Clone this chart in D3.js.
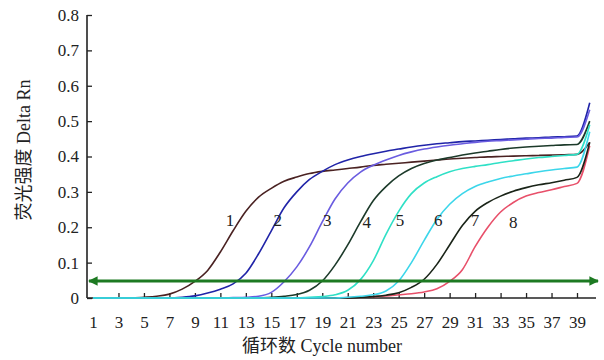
<!DOCTYPE html>
<html>
<head>
<meta charset="utf-8">
<script src="https://cdn.jsdelivr.net/npm/d3@7"></script>
<style>
  body { margin: 0; background: #fff; }
</style>
</head>
<body>
<div id="chart"></div>
<script>
// cycles 1..40
const cycles = d3.range(1, 41);

const curve1 = [0,0,0,0,0.002,0.005,0.011,0.025,0.047,0.078,0.13,0.19,0.245,0.285,0.31,0.33,0.342,0.352,0.358,0.362,
  0.366,0.37,0.375,0.378,0.381,0.384,0.387,0.39,0.393,0.395,0.397,0.399,0.4,0.401,0.402,0.403,0.404,0.405,0.406,0.44];
const curve2 = [0,0,0,0,0,0,0,0.002,0.006,0.014,0.025,0.04,0.07,0.125,0.19,0.255,0.3,0.335,0.358,0.377,
  0.39,0.4,0.408,0.415,0.421,0.427,0.432,0.436,0.439,0.442,0.444,0.446,0.448,0.45,0.452,0.453,0.455,0.456,0.458,0.552];
const curve3 = [0,0,0,0,0,0,0,0,0,0,0,0.001,0.002,0.005,0.016,0.046,0.088,0.145,0.215,0.28,
  0.325,0.356,0.375,0.39,0.403,0.413,0.421,0.427,0.432,0.436,0.44,0.443,0.445,0.447,0.449,0.451,0.452,0.454,0.455,0.532];
const curve4 = [0,0,0,0,0,0,0,0,0,0,0,0,0,0,0.002,0.005,0.01,0.022,0.048,0.093,
  0.15,0.215,0.275,0.315,0.345,0.366,0.38,0.39,0.397,0.404,0.41,0.415,0.42,0.424,0.427,0.429,0.431,0.433,0.434,0.5];
const curve5 = [0,0,0,0,0,0,0,0,0,0,0,0,0,0,0,0,0,0.002,0.004,0.009,
  0.022,0.052,0.105,0.18,0.245,0.295,0.325,0.343,0.357,0.366,0.372,0.377,0.383,0.388,0.393,0.397,0.4,0.403,0.406,0.49];
const curve6 = [0,0,0,0,0,0,0,0,0,0,0,0,0,0,0,0,0,0,0,0,
  0.002,0.005,0.009,0.02,0.048,0.1,0.163,0.222,0.265,0.295,0.315,0.328,0.338,0.345,0.351,0.357,0.362,0.366,0.37,0.47];
const curve7 = [0,0,0,0,0,0,0,0,0,0,0,0,0,0,0,0,0,0,0,0,
  0,0.002,0.004,0.008,0.015,0.03,0.053,0.095,0.15,0.205,0.245,0.27,0.288,0.302,0.312,0.32,0.326,0.333,0.341,0.44];
const curve8 = [0,0,0,0,0,0,0,0,0,0,0,0,0,0,0,0,0,0,0,0,
  0.001,0.002,0.004,0.006,0.009,0.012,0.017,0.026,0.047,0.08,0.145,0.2,0.243,0.27,0.288,0.298,0.306,0.315,0.324,0.43];

const seriesNames = ["1","2","3","4","5","6","7","8"];
const seriesValues = [curve1, curve2, curve3, curve4, curve5, curve6, curve7, curve8];
const seriesColors = ["#4a2222","#2024a8","#6a5ce0","#1c3a2a","#2fe0c6","#3cd6ea","#1a2418","#e8506a"];
// label anchors (cycle, Delta Rn)
const labelCycle = [11.75, 15.5, 19.4, 22.5, 25.1, 28.1, 31.0, 34.0];
const labelValue = [0.22, 0.22, 0.22, 0.215, 0.22, 0.22, 0.22, 0.215];
// drawing order, bottom first
const drawOrder = [7, 0, 1, 2, 3, 6, 4, 5];

const threshold = 0.048;
const yTicks = [0, 0.1, 0.2, 0.3, 0.4, 0.5, 0.6, 0.7, 0.8];
const xTicks = d3.range(1, 40, 2);

const FONT = "'Liberation Serif', 'Times New Roman', 'DejaVu Serif', 'Noto Sans CJK SC', serif";

const W = 604, H = 360;
const svg = d3.select("#chart").append("svg").attr("width", W).attr("height", H);

const x = d3.scaleLinear().domain([1, 39]).range([93, 577]);
const y = d3.scaleLinear().domain([0, 0.8]).range([298, 15]);
const axisLeftX = 87, axisRightX = 596;

// arrow marker for threshold
const defs = svg.append("defs");
defs.append("marker").attr("id", "arr").attr("viewBox", "0 0 10 10")
  .attr("refX", 9).attr("refY", 5).attr("markerWidth", 3.2).attr("markerHeight", 3.2)
  .attr("orient", "auto-start-reverse")
  .append("path").attr("d", "M0,0 L10,5 L0,10 z").attr("fill", "#1d7a22");

// y axis
const yAxis = svg.append("g").attr("transform", `translate(${axisLeftX},0)`)
  .call(d3.axisRight(y).tickValues(yTicks).tickSize(5).tickFormat(d => d === 0 ? "0" : d3.format(".1f")(d)));
yAxis.attr("font-family", FONT);
yAxis.select(".domain").remove();
yAxis.selectAll(".tick line").attr("stroke", "#222").attr("stroke-width", 1.3);
yAxis.selectAll(".tick text").attr("x", -8).attr("text-anchor", "end")
  .attr("font-size", 17).attr("fill", "#222");
svg.append("line").attr("x1", axisLeftX).attr("x2", axisLeftX).attr("y1", y(0.8)).attr("y2", y(0))
  .attr("stroke", "#222").attr("stroke-width", 1.6);

// x axis
const xAxis = svg.append("g").attr("transform", `translate(0,${y(0)})`)
  .call(d3.axisTop(x).tickValues(xTicks).tickSize(5));
xAxis.attr("font-family", FONT);
xAxis.select(".domain").remove();
xAxis.selectAll(".tick line").attr("stroke", "#222").attr("stroke-width", 1.3)
  .attr("display", d => d === 1 ? "none" : null);
xAxis.selectAll(".tick text").attr("y", 18).attr("dy", "0.71em")
  .attr("font-size", 17).attr("fill", "#222");
svg.append("line").attr("x1", axisLeftX).attr("x2", axisRightX).attr("y1", y(0)).attr("y2", y(0))
  .attr("stroke", "#222").attr("stroke-width", 1.6);

// axis titles
svg.append("text").attr("x", 322).attr("y", 352).attr("text-anchor", "middle")
  .attr("font-family", FONT).attr("font-size", 18).attr("fill", "#222").text("循环数 Cycle number");
svg.append("text").attr("transform", "translate(30,150) rotate(-90)").attr("text-anchor", "middle")
  .attr("font-family", FONT).attr("font-size", 18).attr("fill", "#222").text("荧光强度 Delta Rn");

// curves
const line = d3.line().x((d, i) => x(cycles[i])).y(d => y(d)).curve(d3.curveMonotoneX);
svg.append("g").selectAll("path").data(drawOrder).join("path")
  .attr("d", k => line(seriesValues[k]))
  .attr("fill", "none")
  .attr("stroke", k => seriesColors[k])
  .attr("stroke-width", 1.6);

// threshold
svg.append("line").attr("x1", axisLeftX + 2).attr("x2", axisRightX + 2)
  .attr("y1", y(threshold)).attr("y2", y(threshold))
  .attr("stroke", "#1d7a22").attr("stroke-width", 3)
  .attr("marker-start", "url(#arr)").attr("marker-end", "url(#arr)");

// curve labels
svg.append("g").selectAll("text").data(seriesNames).join("text")
  .attr("x", (d, i) => x(labelCycle[i]))
  .attr("y", (d, i) => y(labelValue[i]))
  .attr("dy", "0.35em").attr("text-anchor", "middle")
  .attr("font-family", FONT).attr("font-size", 17).attr("fill", "#222").text(d => d);
</script>
</body>
</html>
